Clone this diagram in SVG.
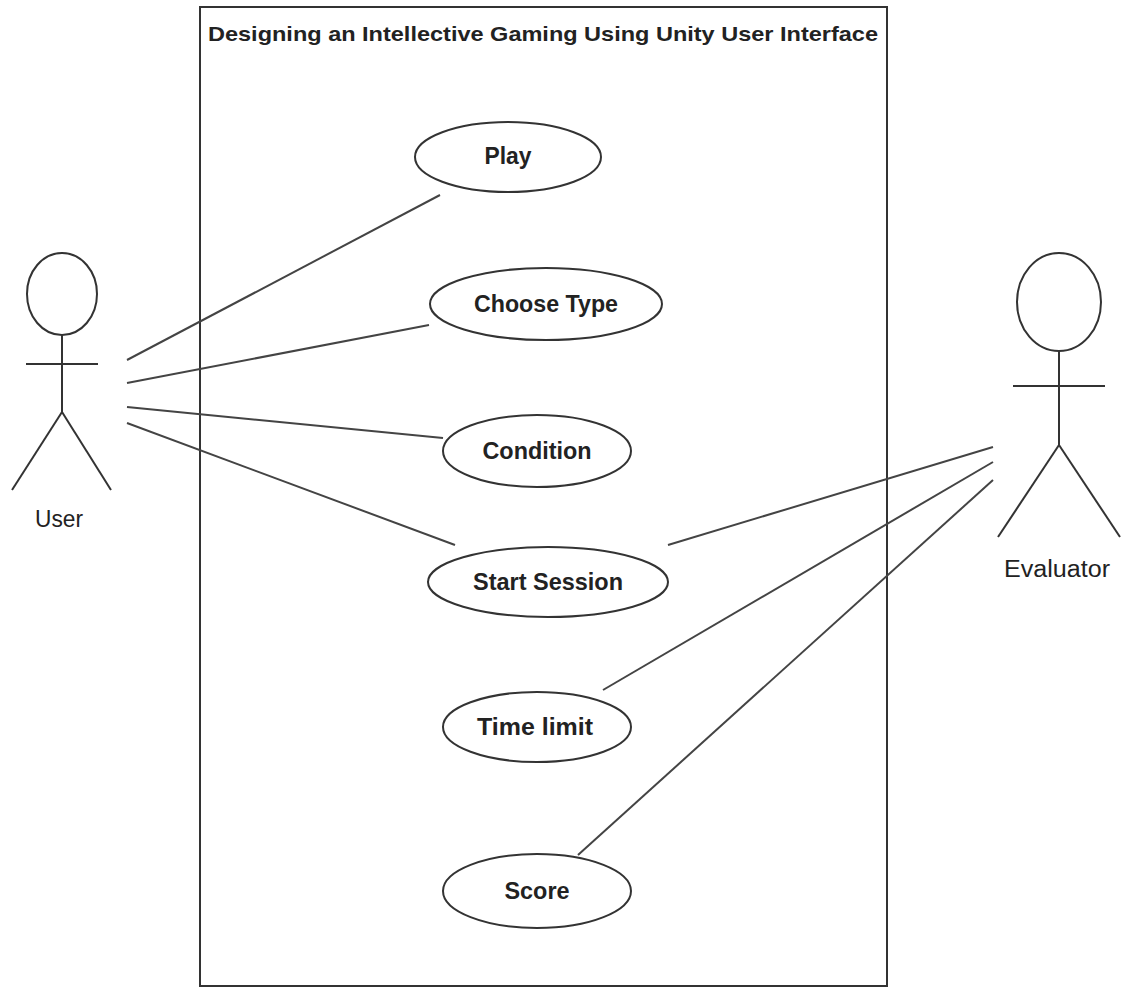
<svg xmlns="http://www.w3.org/2000/svg" width="1124" height="988" viewBox="0 0 1124 988">
<style>
.bg{fill:#ffffff}
.sys{fill:none;stroke:#333;stroke-width:2}
.uc{fill:#ffffff;stroke:#333;stroke-width:2}
.act{fill:none;stroke:#333;stroke-width:2}
.head{fill:#ffffff;stroke:#333;stroke-width:2}
.conn line{stroke:#444;stroke-width:2}
.t{font-family:"Liberation Sans",Arial,sans-serif;font-weight:bold;fill:#222;text-anchor:middle}
.lbl{font-size:24px}
.al{font-family:"Liberation Sans",Arial,sans-serif;font-size:23px;fill:#222;text-anchor:middle}
</style>
<rect class="bg" x="0" y="0" width="1124" height="988"/>
<g id="system">
<rect class="sys" x="200" y="7" width="687" height="979"/>
<text class="t" x="543" y="41" font-size="21" textLength="670" lengthAdjust="spacingAndGlyphs">Designing an Intellective Gaming Using Unity User Interface</text>
</g>
<g class="conn" id="connectors">
<line x1="127" y1="360" x2="440" y2="195"/>
<line x1="127" y1="383" x2="429" y2="325"/>
<line x1="127" y1="407" x2="443" y2="438"/>
<line x1="127" y1="423" x2="455" y2="545"/>
<line x1="993" y1="447" x2="668" y2="545"/>
<line x1="993" y1="462" x2="603" y2="690"/>
<line x1="993" y1="480" x2="578" y2="855"/>
</g>
<g id="user">
<ellipse class="head" cx="62" cy="294" rx="35" ry="41"/>
<line class="act" x1="62" y1="335" x2="62" y2="412"/>
<line class="act" x1="26" y1="364" x2="98" y2="364"/>
<line class="act" x1="62" y1="412" x2="12" y2="490"/>
<line class="act" x1="62" y1="412" x2="111" y2="490"/>
<text class="al" x="59" y="527" textLength="48" lengthAdjust="spacingAndGlyphs">User</text>
</g>
<g id="evaluator">
<ellipse class="head" cx="1059" cy="302" rx="42" ry="49"/>
<line class="act" x1="1059" y1="351" x2="1059" y2="445"/>
<line class="act" x1="1013" y1="386" x2="1105" y2="386"/>
<line class="act" x1="1059" y1="445" x2="998" y2="537"/>
<line class="act" x1="1059" y1="445" x2="1120" y2="537"/>
<text class="al" x="1057" y="577" textLength="106" lengthAdjust="spacingAndGlyphs">Evaluator</text>
</g>
<g id="play">
<ellipse class="uc" cx="508" cy="157" rx="93" ry="35"/>
<text class="t lbl" x="508" y="164" textLength="47" lengthAdjust="spacingAndGlyphs">Play</text>
</g>
<g id="choose-type">
<ellipse class="uc" cx="546" cy="304" rx="116" ry="36"/>
<text class="t lbl" x="546" y="312" textLength="144" lengthAdjust="spacingAndGlyphs">Choose Type</text>
</g>
<g id="condition">
<ellipse class="uc" cx="537" cy="451" rx="94" ry="36"/>
<text class="t lbl" x="537" y="459" textLength="109" lengthAdjust="spacingAndGlyphs">Condition</text>
</g>
<g id="start-session">
<ellipse class="uc" cx="548" cy="582" rx="120" ry="35"/>
<text class="t lbl" x="548" y="590" textLength="150" lengthAdjust="spacingAndGlyphs">Start Session</text>
</g>
<g id="time-limit">
<ellipse class="uc" cx="537" cy="727" rx="94" ry="35"/>
<text class="t lbl" x="535" y="735" textLength="116" lengthAdjust="spacingAndGlyphs">Time limit</text>
</g>
<g id="score">
<ellipse class="uc" cx="537" cy="891" rx="94" ry="37"/>
<text class="t lbl" x="537" y="899" textLength="65" lengthAdjust="spacingAndGlyphs">Score</text>
</g>
</svg>
